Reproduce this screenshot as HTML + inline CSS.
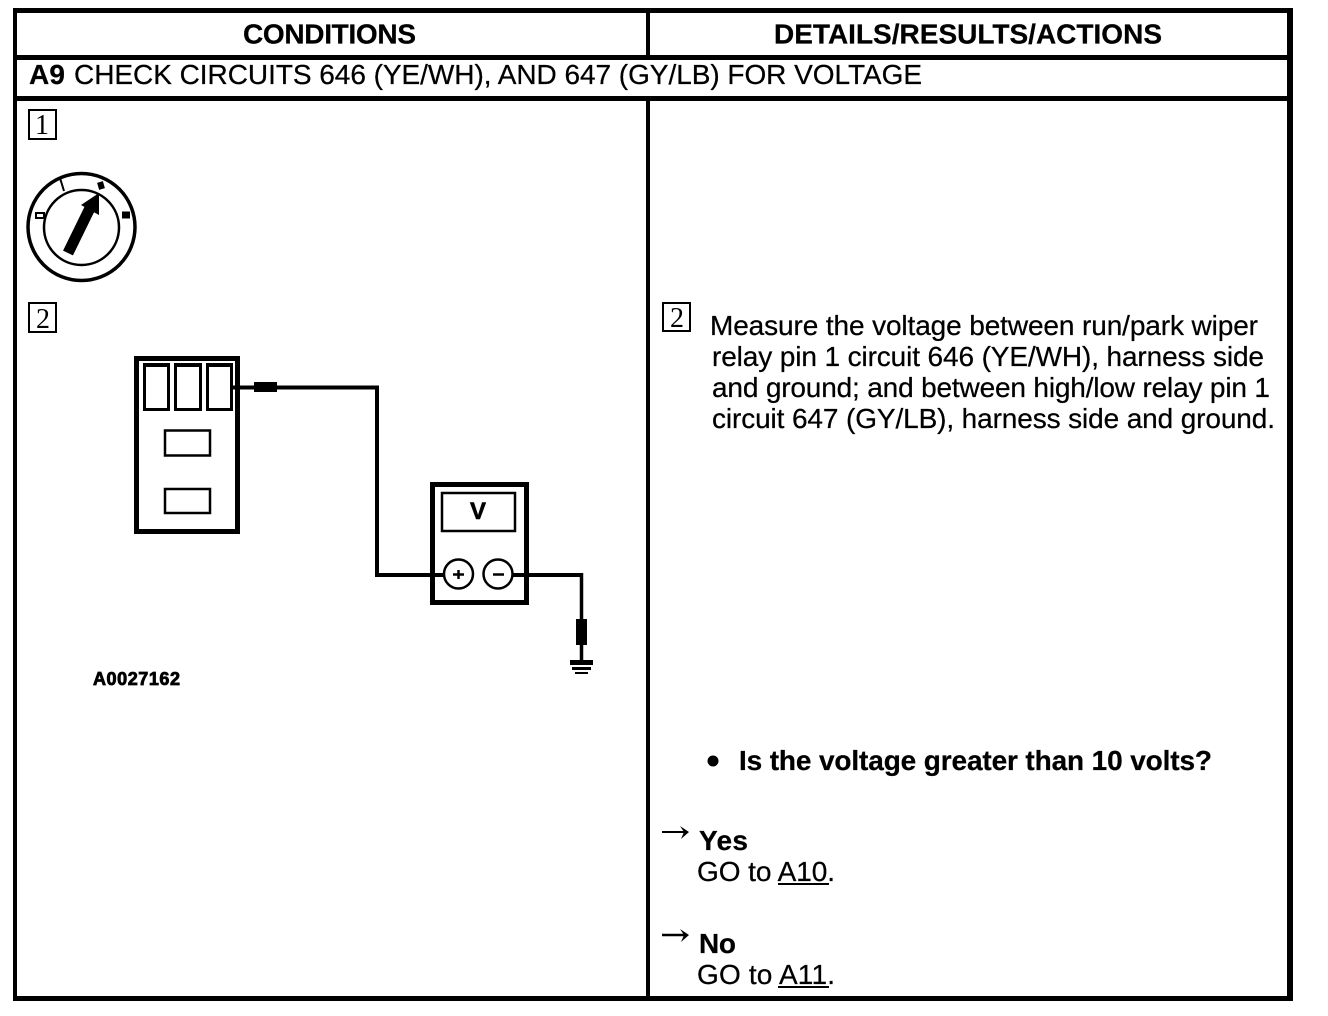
<!DOCTYPE html>
<html><head><meta charset="utf-8"><style>
html,body{margin:0;padding:0;background:#fff;width:1328px;height:1016px;overflow:hidden}
svg{display:block}
text{font-family:"Liberation Sans",Arial,sans-serif;font-size:28px;fill:#000;stroke:#000;stroke-width:.25px}
.b{font-weight:bold}
.s{font-family:"Liberation Serif",serif;font-size:28px;stroke-width:0}
</style></head><body>
<svg width="1328" height="1016" viewBox="0 0 1328 1016" xmlns="http://www.w3.org/2000/svg">
<g fill="#000">
<rect x="13" y="8" width="1280" height="5"/>
<rect x="13" y="55" width="1280" height="5"/>
<rect x="13" y="96" width="1280" height="5"/>
<rect x="13" y="996" width="1280" height="5"/>
<rect x="13" y="8" width="4" height="993"/>
<rect x="1287" y="8" width="6" height="993"/>
<rect x="646" y="8" width="4" height="48"/>
<rect x="646" y="96" width="4" height="905"/>
</g>
<text class="b" x="243" y="43.500" textLength="173" lengthAdjust="spacing">CONDITIONS</text>
<text class="b" x="774" y="43.500" textLength="388" lengthAdjust="spacing">DETAILS/RESULTS/ACTIONS</text>
<text class="b" x="29" y="84" textLength="36" lengthAdjust="spacing">A9</text>
<text x="74" y="84" textLength="848" lengthAdjust="spacing">CHECK CIRCUITS 646 (YE/WH), AND 647 (GY/LB) FOR VOLTAGE</text>

<!-- numbered boxes -->
<g fill="none" stroke="#000" stroke-width="2">
<rect x="29" y="110" width="27" height="29"/>
<rect x="29" y="303" width="27" height="29"/>
<rect x="663" y="303" width="27" height="28"/>
</g>
<text class="s" x="35" y="134">1</text>
<text class="s" x="36" y="328">2</text>
<text class="s" x="670" y="327">2</text>

<!-- ignition switch -->
<g fill="none" stroke="#000">
<circle cx="81.500" cy="227" r="53.500" stroke-width="3.500"/>
<circle cx="81.500" cy="227.500" r="37.500" stroke-width="2.500"/>
<path d="M60 178L64 191" stroke-width="2"/>
<path d="M100 182L102 189" stroke-width="6"/>
<rect x="36" y="213" width="8" height="5" stroke-width="2"/>
<path d="M122 215H130" stroke-width="7"/>
<path d="M68 253L90 208" stroke-width="11"/>
</g>
<path d="M81 205L99 193L99 215Z" fill="#000"/>

<!-- relay -->
<g fill="none" stroke="#000">
<rect x="136.500" y="358.500" width="101" height="173" stroke-width="5"/>
<rect x="144.500" y="364.500" width="24" height="45" stroke-width="3"/>
<rect x="175.500" y="364.500" width="25" height="45" stroke-width="3"/>
<rect x="207.500" y="364.500" width="24" height="45" stroke-width="3"/>
<rect x="165" y="430.500" width="45" height="25" stroke-width="2.500"/>
<rect x="165" y="489" width="45" height="24" stroke-width="2.500"/>
</g>
<g fill="#000">
<rect x="144" y="363" width="25" height="4"/>
<rect x="175" y="363" width="26" height="4"/>
<rect x="207" y="363" width="25" height="4"/>
<rect x="254" y="382" width="23" height="10"/>
</g>
<path d="M232 387.500H377V575H444" fill="none" stroke="#000" stroke-width="4"/>

<!-- voltmeter -->
<g fill="none" stroke="#000">
<rect x="432.500" y="484.500" width="94" height="118" stroke-width="5"/>
<rect x="442" y="493" width="73" height="38" stroke-width="2.500"/>
<circle cx="458.500" cy="574" r="14.500" stroke-width="2.500"/>
<circle cx="498" cy="574" r="14.500" stroke-width="2.500"/>
<path d="M453 574.500H464M458.500 570V579" stroke-width="2.500"/>
<path d="M493 574.500H504" stroke-width="2.500"/>
<path d="M513 575H581.500" stroke-width="4"/>
<path d="M581.500 573V620M581.500 640V661" stroke-width="3.500"/>
</g>
<text class="b" x="470" y="519" style="font-size:24px;stroke-width:.6px">V</text>
<g fill="#000">
<rect x="576" y="619" width="11" height="26"/>
<rect x="570" y="660" width="23" height="5"/>
<rect x="572" y="667" width="19" height="3"/>
<rect x="575" y="672" width="13" height="2"/>
</g>
<text class="b" x="93" y="685" textLength="87" lengthAdjust="spacing" style="font-size:18px;stroke-width:.8px">A0027162</text>

<!-- right text -->
<text x="710" y="335" textLength="548" lengthAdjust="spacing">Measure the voltage between run/park wiper</text>
<text x="712" y="366" textLength="552" lengthAdjust="spacing">relay pin 1 circuit 646 (YE/WH), harness side</text>
<text x="712" y="397" textLength="558" lengthAdjust="spacing">and ground; and between high/low relay pin 1</text>
<text x="712" y="428" textLength="563" lengthAdjust="spacing">circuit 647 (GY/LB), harness side and ground.</text>

<circle cx="713" cy="761" r="5.500" fill="#000"/>
<text class="b" x="739" y="770" textLength="473" lengthAdjust="spacing">Is the voltage greater than 10 volts?</text>

<path d="M662 832H686" fill="none" stroke="#000" stroke-width="2"/>
<path d="M680 826L689 832L681 839L684 832Z" fill="#000"/>
<text class="b" x="699" y="850" textLength="49" lengthAdjust="spacing">Yes</text>
<text x="697" y="881" textLength="138" lengthAdjust="spacing">GO to A10.</text>
<rect x="778" y="883" width="51" height="2" fill="#000"/>

<path d="M662 935H686" fill="none" stroke="#000" stroke-width="2.500"/>
<path d="M680 929L689 935L681 942L684 935Z" fill="#000"/>
<text class="b" x="699" y="953" textLength="37" lengthAdjust="spacing">No</text>
<text x="697" y="984" textLength="138" lengthAdjust="spacing">GO to A11.</text>
<rect x="778" y="986" width="51" height="2" fill="#000"/>
</svg>
</body></html>
